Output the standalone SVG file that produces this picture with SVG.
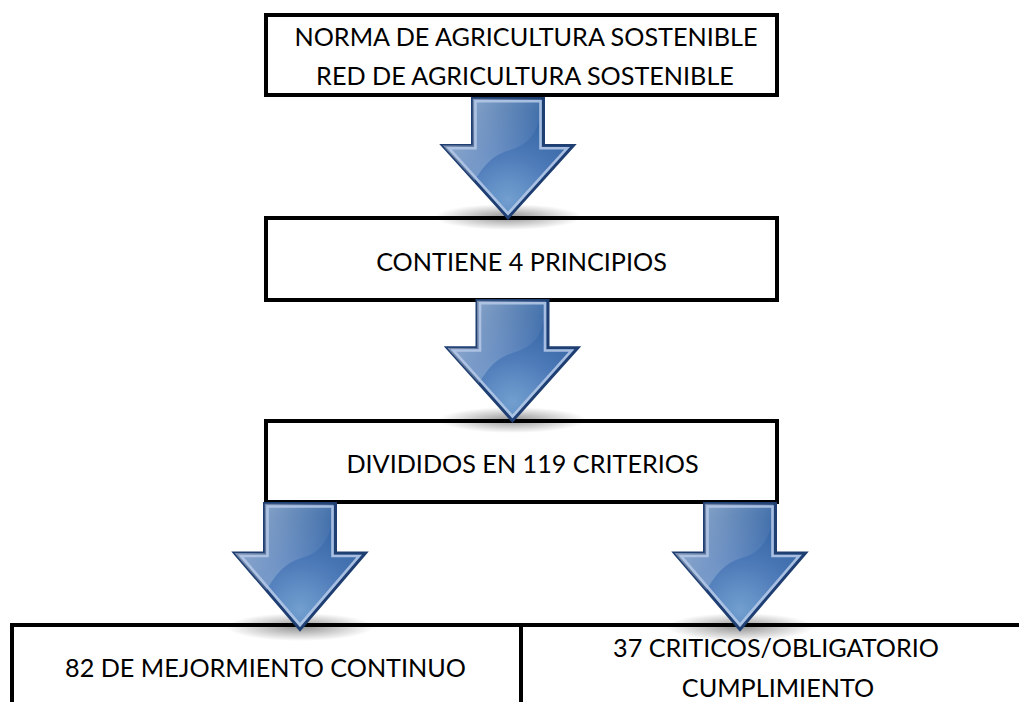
<svg xmlns="http://www.w3.org/2000/svg" xmlns:xlink="http://www.w3.org/1999/xlink" width="1019" height="702" viewBox="0 0 1019 702">
<style>
.box{fill:#fff;stroke:#000;stroke-width:4}
.lbl{font-family:Lato,"Open Sans","Liberation Sans",sans-serif;font-size:25.2px;fill:#000;text-anchor:middle}
.out{stroke:#1f3f73;stroke-width:3;stroke-linejoin:miter}
.inn{fill:none;stroke:#b3c7e6;stroke-width:2.6;stroke-linejoin:miter;opacity:0.9}
</style>
<defs>
<radialGradient id="base" cx="67.5" cy="108" r="95" gradientUnits="userSpaceOnUse">
<stop offset="0" stop-color="#729fcf"/>
<stop offset="0.55" stop-color="#4a77b6"/>
<stop offset="1" stop-color="#3465a4"/>
</radialGradient>
<linearGradient id="gloss" x1="30" y1="0" x2="105" y2="40" gradientUnits="userSpaceOnUse">
<stop offset="0" stop-color="#fff" stop-opacity="0.42"/>
<stop offset="1" stop-color="#fff" stop-opacity="0"/>
</linearGradient>
<radialGradient id="shadow" cx="0.5" cy="0.5" r="0.5">
<stop offset="0" stop-color="#000" stop-opacity="0.42"/>
<stop offset="1" stop-color="#000" stop-opacity="0"/>
</radialGradient>
<clipPath id="ac"><path d="M32,1.5 H103 V51 H133 L67.5,127.5 L2,51 H32 Z"/></clipPath>
<g id="arrow">
<path class="out" fill="url(#base)" d="M32,1.5 H103 V51 H133 L67.5,127.5 L2,51 H32 Z"/>
<path clip-path="url(#ac)" fill="url(#gloss)" d="M32,1.5 H101 V14 C97,38 88,50 72,55 C56,60 46,66 32,92 L2,51 H32 Z"/>
<path class="inn" d="M35,4.5 H100 V54 H126.5 L67.5,122.9 L8.5,54 H35 Z"/>
</g>
</defs>

<g id="node1">
<rect class="box" x="266" y="15" width="511" height="80"/>
<text class="lbl" x="526" y="46">NORMA DE AGRICULTURA SOSTENIBLE</text>
<text class="lbl" x="525" y="85">RED DE AGRICULTURA SOSTENIBLE</text>
</g>
<g id="node2">
<rect class="box" x="266" y="218" width="511" height="82"/>
<text class="lbl" x="521.5" y="271">CONTIENE 4 PRINCIPIOS</text>
</g>
<g id="node3">
<rect class="box" x="266" y="421" width="511" height="81"/>
<text class="lbl" x="522.5" y="473">DIVIDIDOS EN 119 CRITERIOS</text>
</g>
<g id="node4">
<rect class="box" x="12" y="625" width="509" height="100"/>
<text class="lbl" x="265.5" y="677">82 DE MEJORMIENTO CONTINUO</text>
</g>
<g id="node5">
<rect class="box" x="521" y="625" width="520" height="100"/>
<text class="lbl" x="776" y="657">37 CRITICOS/OBLIGATORIO</text>
<text class="lbl" x="778" y="697">CUMPLIMIENTO</text>
</g>

<g id="connectors">
<ellipse cx="508" cy="217" rx="74" ry="13" fill="url(#shadow)"/>
<ellipse cx="512.5" cy="420" rx="74" ry="13" fill="url(#shadow)"/>
<ellipse cx="300" cy="627" rx="74" ry="14" fill="url(#shadow)"/>
<ellipse cx="740" cy="627" rx="74" ry="14" fill="url(#shadow)"/>
<use xlink:href="#arrow" transform="translate(440.5,97) scale(1,0.948)"/>
<use xlink:href="#arrow" transform="translate(445,299) scale(1,0.955)"/>
<use xlink:href="#arrow" transform="translate(232.5,502)"/>
<use xlink:href="#arrow" transform="translate(672.5,502)"/>
</g>
</svg>
